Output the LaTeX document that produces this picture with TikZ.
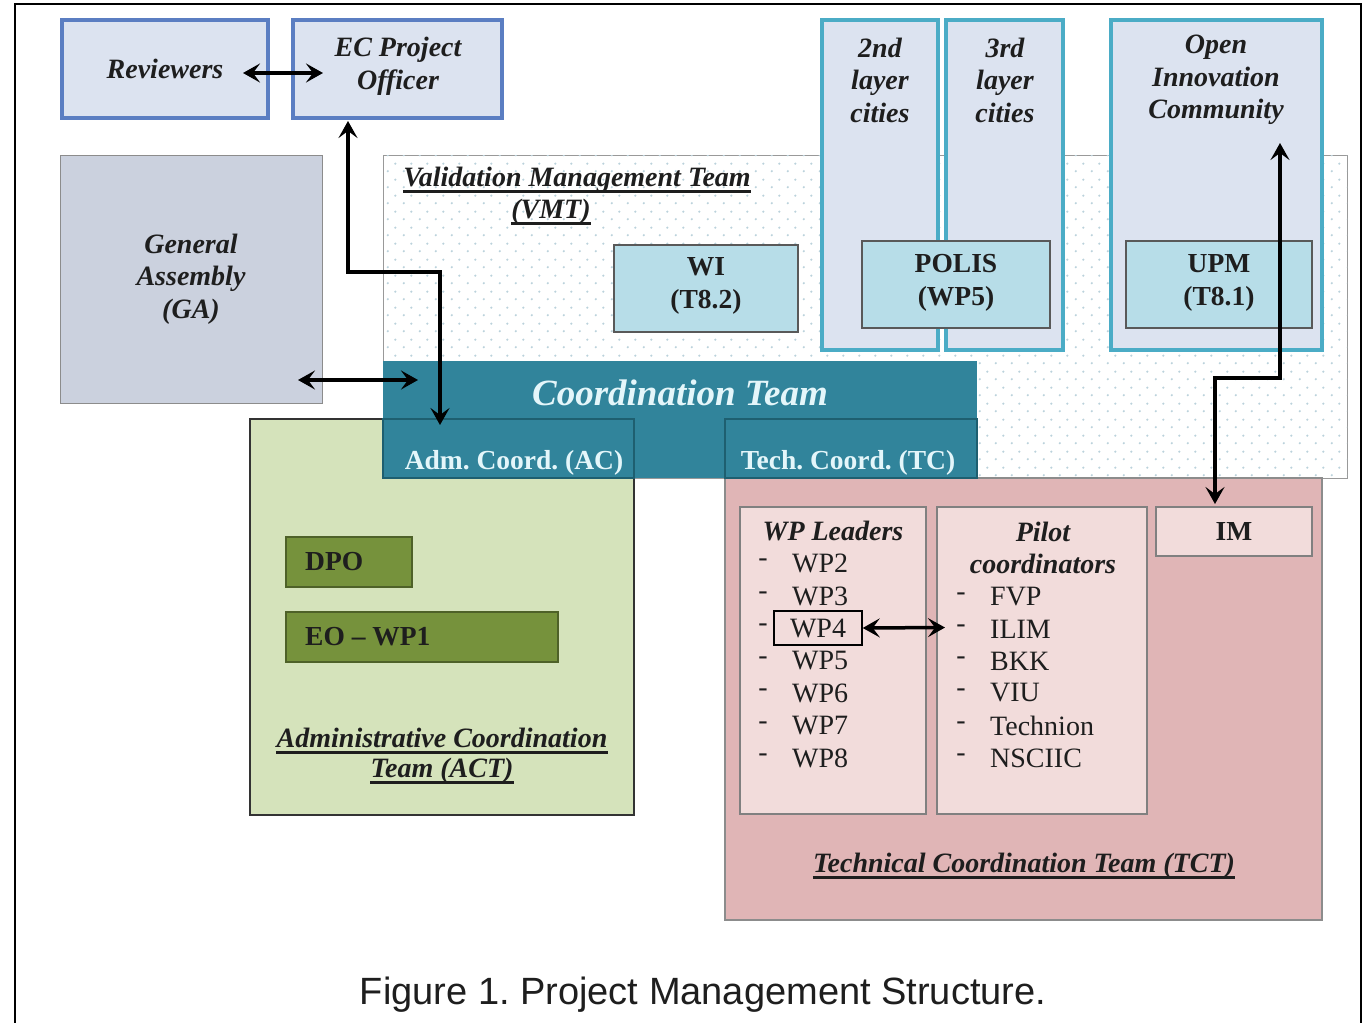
\documentclass[tikz,border=0pt]{standalone}
\usepackage{fontspec}
\setmainfont{Liberation Serif}
\newfontfamily\capfont{Liberation Sans}
\usetikzlibrary{arrows.meta,calc,patterns.meta}
\frenchspacing
\definecolor{revb}{HTML}{5B7EC2}
\definecolor{lightbox}{HTML}{DCE3F0}
\definecolor{cityt}{HTML}{4BACC6}
\definecolor{gafill}{HTML}{CBD1DE}
\definecolor{wifill}{HTML}{B7DDE8}
\definecolor{coordf}{HTML}{31849B}
\definecolor{coordl}{HTML}{1E5F70}
\definecolor{coordt}{HTML}{E4F6FA}
\definecolor{actf}{HTML}{D5E3BB}
\definecolor{dpof}{HTML}{76923C}
\definecolor{dpol}{HTML}{4E6128}
\definecolor{tctf}{HTML}{E0B5B6}
\definecolor{pinkbox}{HTML}{F2DCDB}
\definecolor{txt}{HTML}{1E1E1E}
\definecolor{dotc}{HTML}{BBD2DC}
\tikzdeclarepattern{name=vdots, type=uncolored, bottom left={(0pt,0pt)}, top right={(16pt,16pt)}, tile size={(16pt,16pt)}, code={\fill (4pt,4pt) circle (1.3pt); \fill (12pt,12pt) circle (1.3pt);}}
\tikzset{
  bx/.style={rectangle, inner sep=0pt, outer sep=0pt},
  topbox/.style={bx, fill=lightbox, draw=revb, line width=4pt},
  citybox/.style={bx, fill=lightbox, draw=cityt, line width=4pt},
  tealbox/.style={bx, fill=wifill, draw=black!65, line width=1.2pt},
  pinkb/.style={bx, fill=pinkbox, draw=black!50, line width=1.2pt},
  greenb/.style={bx, fill=dpof, draw=dpol, line width=1.5pt},
  tbi/.style={font=\fontsize{28}{32.5}\selectfont\bfseries\itshape, text=txt, align=center, inner sep=0pt},
  tb/.style={font=\fontsize{27.5}{33}\selectfont\bfseries, text=txt, align=center, inner sep=0pt},
  tr/.style={font=\fontsize{28}{32.5}\selectfont, text=txt, inner sep=0pt},
  dbl/.style={{Stealth[length=17pt,width=19pt,inset=7pt]}-{Stealth[length=17pt,width=19pt,inset=7pt]}, line width=3.5pt, black}
}
\begin{document}
\begin{tikzpicture}[x=1pt,y=-1pt]
\useasboundingbox (0,0) rectangle (1369,1023);
\fill[white] (0,0) rectangle (1369,1023);
% outer frame
\draw[line width=2.5pt] (15,1030) -- (15,4) -- (1361,4) -- (1361,1030);

% top boxes
\node[topbox, minimum width=206, minimum height=98] (rev) at (165,69) {};
\node[tbi] (revt) at (165,69) {Reviewers};
\node[topbox, minimum width=209, minimum height=98] (ec) at (397.5,69) {};
\node[tbi, font=\fontsize{28}{33}\selectfont\bfseries\itshape] (ect) at (398,66) {EC Project\\Officer};

% General Assembly
\node[bx, fill=gafill, draw=black!45, line width=1pt, minimum width=262, minimum height=248] (ga) at (191,279) {};
\node[tbi] (gat) at (191,279) {General\\Assembly\\(GA)};

% Validation Management Team
\node[bx, fill=white, draw=black!40, line width=1pt, minimum width=964, minimum height=323,
      postaction={pattern=vdots, pattern color=dotc}] (vmt) at (865,316.5) {};
\node[tbi, anchor=center] (vmt1) at (577,180) {Validation Management Team};
\draw[line width=2.5pt, txt] ([yshift=-5pt]vmt1.base west) -- ([yshift=-5pt]vmt1.base east);
\node[tbi] (vmt2) at (551,212) {(VMT)};
\draw[line width=2.5pt, txt] ([yshift=-5pt]vmt2.base west) -- ([yshift=-5pt]vmt2.base east);

% cities and community
\node[citybox, minimum width=116, minimum height=330] (c2) at (880,185) {};
\node[citybox, minimum width=117, minimum height=330] (c3) at (1004.5,185) {};
\node[citybox, minimum width=211, minimum height=330] (oic) at (1216.5,185) {};
\node[tbi] (c2t) at (880,80) {2nd\\layer\\cities};
\node[tbi] (c3t) at (1005,80) {3rd\\layer\\cities};
\node[tbi] (oict) at (1216,80) {Open\\Innovation\\Community};

% teal partner boxes
\node[tealbox, minimum width=184, minimum height=87] (wi) at (706,288.5) {};
\node[tb] (wit) at (706,286) {WI\\(T8.2)};
\node[tealbox, minimum width=188, minimum height=87] (polis) at (956,284.5) {};
\node[tb] (polist) at (956,282.5) {POLIS\\(WP5)};
\node[tealbox, minimum width=186, minimum height=87] (upm) at (1219,284.5) {};
\node[tb] (upmt) at (1219,283) {UPM\\(T8.1)};

% ACT and TCT
\node[bx, fill=actf, draw=black!80, line width=1.5pt, minimum width=384, minimum height=396] (act) at (442,617) {};
\node[bx, fill=tctf, draw=black!45, line width=1.2pt, minimum width=597, minimum height=442] (tct) at (1023.5,699) {};

% Coordination team
\node[bx, fill=coordf, minimum width=594, minimum height=117] (coord) at (680,419.5) {};
\node[font=\fontsize{37}{40}\selectfont\bfseries\itshape, text=coordt, inner sep=0pt] (coordt) at (680,393) {Coordination Team};
\node[bx, fill=coordf, draw=coordl, line width=1.5pt, minimum width=251, minimum height=59] (ac) at (508.5,448.5) {};
\node[bx, fill=coordf, draw=coordl, line width=1.5pt, minimum width=252, minimum height=59] (tc) at (851,448.5) {};
\node[tb, text=coordt] (act_t) at (514,463) {Adm. Coord. (AC)};
\node[tb, text=coordt] (tct_t) at (848,463) {Tech. Coord. (TC)};

% inside ACT
\node[greenb, minimum width=126, minimum height=50] (dpo) at (349,562) {};
\node[tb, anchor=west] (dpot) at (305,562) {DPO};
\node[greenb, minimum width=272, minimum height=50] (eo) at (422,637) {};
\node[tb, anchor=west] (eot) at (305,637) {EO -- WP1};
\node[tbi] (actl1) at (442,738) {Administrative Coordination};
\draw[line width=2.5pt, txt] ([yshift=-5pt]actl1.base west) -- ([yshift=-5pt]actl1.base east);
\node[tbi] (actl2) at (442,771) {Team (ACT)};
\draw[line width=2.5pt, txt] ([yshift=-5pt]actl2.base west) -- ([yshift=-5pt]actl2.base east);

% inside TCT
\node[pinkb, minimum width=186, minimum height=307] (wpl) at (833,660.5) {};
\node[pinkb, minimum width=210, minimum height=307] (pil) at (1042,660.5) {};
\node[pinkb, minimum width=156, minimum height=49] (im) at (1234,531.5) {};
\node[tb] (imt) at (1234,531.5) {IM};
\node[tbi] (wplt) at (833,531) {WP Leaders};
\foreach \t/\y [count=\i] in {WP2/563, WP3/596, WP5/661, WP6/693, WP7/726, WP8/758} {
  \node[tr] (wpd\i) at (763,\y) {-};
  \node[tr, anchor=west] (wpi\i) at (792,\y) {\t};
}
\node[tr] (wpd4) at (763,628) {-};
\node[tr, draw=black, line width=1.5pt, minimum width=88, minimum height=34] (wp4) at (818,628) {WP4};
\node[tbi] (pilt) at (1043,548) {Pilot\\coordinators};
\foreach \t/\y [count=\i] in {FVP/597, ILIM/629, BKK/661, VIU/693, Technion/726, NSCIIC/758} {
  \node[tr] (pd\i) at (961,\y) {-};
  \node[tr, anchor=west] (pi\i) at (990,\y) {\t};
}
\node[tbi] (tctl) at (1024,866) {Technical Coordination Team (TCT)};
\draw[line width=2.5pt, txt] ([yshift=-5pt]tctl.base west) -- ([yshift=-5pt]tctl.base east);

% connectors
\draw[dbl] ($(rev.east)+(-25,4)$) -- ($(ec.west)+(30,4)$);
\draw[dbl] ($(ga.east)+(-24,101)$) -- ($(coord.west)+(35,-39.5)$);
\draw[dbl] ($(ec.south)+(-49.5,3)$) -- ++(0,151) -| ($(ac.north)+(-68.5,6)$);
\draw[dbl] (wp4.east) -- ($(pil.west)+(8,-33)$);
\draw[dbl] ($(oic.center)+(63.5,-42)$) -- ++(0,235) -| ($(im.north)+(-19,-3)$);

% caption
\node[font=\capfont\fontsize{38}{42}\selectfont, text=txt, inner sep=0pt] (cap) at (703,995) {Figure 1. Project Management Structure.};
\end{tikzpicture}
\end{document}
